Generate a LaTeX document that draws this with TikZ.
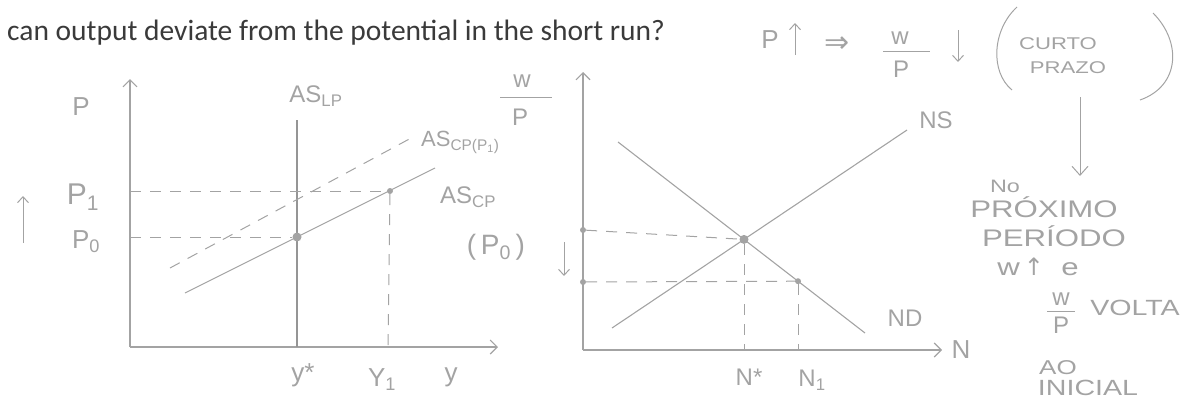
\documentclass[tikz,border=0pt]{standalone}
\usepackage{fontspec}
\setmainfont{Carlito}
\newfontfamily\hand{Liberation Sans}
\newfontfamily\handw[FakeStretch=1.3]{Liberation Sans}
\newfontfamily\sym{DejaVu Sans}
\usetikzlibrary{arrows.meta}
\definecolor{pencil}{HTML}{A3A3A3}
\definecolor{ink}{HTML}{3A3A3A}
\newcommand{\hs}[1]{\hand\fontsize{#1}{#1}\selectfont}
\newcommand{\hw}[1]{\handw\fontsize{#1}{#1}\selectfont}
\begin{document}
\begin{tikzpicture}[x=1pt,y=-1pt,
  axis/.style={draw=pencil,line width=1.1pt,-{Straight Barb[length=7pt,width=14pt]}},
  curve/.style={draw=pencil,line width=1.1pt},
  guide/.style={draw=pencil,line width=1pt,dash pattern=on 11pt off 9pt},
  hint/.style={draw=pencil,line width=1pt,-{Straight Barb[length=6pt,width=11pt]}},
  bar/.style={draw=pencil,line width=1pt},
  dotpt/.style={circle,fill=pencil,inner sep=0pt,minimum size=9pt},
  tickpt/.style={circle,fill=pencil,inner sep=0pt,minimum size=6pt},
  lbl/.style={text=pencil,inner sep=0pt,font=\hs{24}},
  paren/.style={draw=pencil,line width=1pt}
]
\useasboundingbox (0,0) rectangle (1185,405);

% title
\node[anchor=base west,text=ink,inner sep=0pt,font=\fontsize{29.5}{32}\selectfont] (title) at (7,40) {can output deviate from the potential in the short run?};

% ---------- left graph ----------
\coordinate (Lo) at (130,347);
\coordinate (Ly) at (130,79);
\coordinate (Lx) at (498,347);
\draw[axis] (Lo) -- (Ly);
\draw[axis] (Lo) -- (Lx);
\coordinate (LPt) at (297,120);
\coordinate (LPb) at (297,347);
\draw[curve,draw=pencil!115] (LPb) -- (LPt);
\coordinate (CPa) at (185,293);
\coordinate (CPb) at (435,168);
\draw[curve] (CPa) -- (CPb);
\coordinate (CQa) at (170,268);
\coordinate (CQb) at (413,137);
\draw[guide] (CQa) -- (CQb);
\node[dotpt] (E0) at (297,237) {};
\node[tickpt] (E1) at (390,191) {};
\coordinate (P1ax) at (130,191);
\coordinate (P0ax) at (130,237);
\coordinate (Y1ax) at (388,347);
\draw[guide] (P1ax) -- (E1);
\draw[guide] (P0ax) -- (E0);
\draw[guide] (E1) -- (Y1ax);

\node[lbl,font=\hs{26}] (lP) at (81,107) {P};
\node[lbl,font=\hs{30}] (lP1) at (83,197) {P\textsubscript{1}};
\node[lbl,font=\hs{26}] (lP0) at (86,242) {P\textsubscript{0}};
\coordinate (upA) at (23,243);
\coordinate (upB) at (23,196);
\draw[hint] (upA) -- (upB);
\node[lbl] (aslp) at (316,96) {AS\textsubscript{LP}};
\node[lbl,font=\hs{22},anchor=west] (ascp1) at (421,142) {AS\textsubscript{CP(P\textsubscript{1})}};
\node[lbl,anchor=west] (ascp) at (440,197) {AS\textsubscript{CP}};
\node[lbl,font=\hs{28}] (ascp0) at (496,247) {(\,P\textsubscript{0}\,)};
\node[lbl,font=\hs{26}] (ystar) at (303,375) {y*};
\node[lbl,font=\hs{26}] (y1) at (382,380) {Y\textsubscript{1}};
\node[lbl,font=\hs{26}] (yl) at (451,377) {y};

% ---------- right graph ----------
\coordinate (Ro) at (583,350);
\coordinate (Ry) at (583,72);
\coordinate (Rx) at (942,350);
\draw[axis] (Ro) -- (Ry);
\draw[axis] (Ro) -- (Rx);
\coordinate (NDa) at (618,142);
\coordinate (NDb) at (865,333);
\coordinate (NSa) at (612,328);
\coordinate (NSb) at (907,130);
\draw[curve] (NDa) -- (NDb);
\draw[curve] (NSa) -- (NSb);
\node[dotpt] (Es) at (744,239.4) {};
\node[tickpt] (B) at (798,281.2) {};
\node[tickpt] (W0) at (583,230) {};
\node[tickpt] (W1) at (583,282) {};
\coordinate (Nsax) at (744,350);
\coordinate (N1ax) at (798,350);
\draw[guide] (W0) -- (Es);
\draw[guide] (W1) -- (B);
\draw[guide] (Es) -- (Nsax);
\draw[guide] (B) -- (N1ax);
\coordinate (dnA) at (564,242);
\coordinate (dnB) at (564,276);
\draw[hint] (dnA) -- (dnB);

% w/P axis label
\node[lbl] (wpN) at (522,81) {w};
\node[lbl] (wpD) at (520,117) {P};
\coordinate (wpBa) at (500,97);
\coordinate (wpBb) at (552,97);
\draw[bar] (wpBa) -- (wpBb);

\node[lbl] (nstar) at (749,377) {N*};
\node[lbl] (n1) at (812,380) {N\textsubscript{1}};
\node[lbl,font=\hs{26}] (nl) at (961,350) {N};
\node[lbl] (ns) at (936,120) {NS};
\node[lbl] (nd) at (905,318) {ND};

% ---------- notes ----------
\node[lbl,font=\hs{26}] (tP) at (770,40) {P};
\coordinate (tUa) at (795,55);
\coordinate (tUb) at (795,23);
\draw[hint] (tUa) -- (tUb);
\node[lbl,font=\hs{30}] (tImp) at (837,45) {{\sym ⇒}};
\node[lbl] (tWn) at (900,38) {w};
\node[lbl] (tWd) at (901,69) {P};
\coordinate (tBa) at (883,51);
\coordinate (tBb) at (930,51);
\draw[bar] (tBa) -- (tBb);
\coordinate (tDa) at (958,30);
\coordinate (tDb) at (958,62);
\draw[hint] (tDa) -- (tDb);
\draw[paren] (1017,7) .. controls (992,30) and (990,72) .. (1012,90);
\draw[paren] (1153,13) .. controls (1182,42) and (1180,86) .. (1140,100);
\node[lbl,font=\hw{17}] (curto) at (1058,44) {CURTO};
\node[lbl,font=\hw{17}] (prazo) at (1068,68) {PRAZO};
\coordinate (arA) at (1080,97);
\coordinate (arB) at (1080,176);
\draw[draw=pencil,line width=1pt,-{Straight Barb[length=9pt,width=16pt]}] (arA) -- (arB);
\node[lbl,font=\hw{18}] (no) at (1005,186) {No};
\node[lbl,font=\hw{24}] (prox) at (1044,207) {PRÓXIMO};
\node[lbl,font=\hw{24}] (per) at (1054,236) {PERÍODO};
\node[lbl,font=\hw{24}] (wup) at (1038,267) {w\,{\sym ↑}\ \ e};
\node[lbl] (bWn) at (1061,299) {w};
\node[lbl] (bWd) at (1061,325) {P};
\coordinate (bBa) at (1047,311);
\coordinate (bBb) at (1075,311);
\draw[bar] (bBa) -- (bBb);
\node[lbl,font=\hw{22}] (volta) at (1135,308) {VOLTA};
\node[lbl,font=\hw{20}] (ao) at (1058,368) {AO};
\node[lbl,font=\hw{22}] (ini) at (1088,388) {INICIAL};
\end{tikzpicture}
\end{document}
